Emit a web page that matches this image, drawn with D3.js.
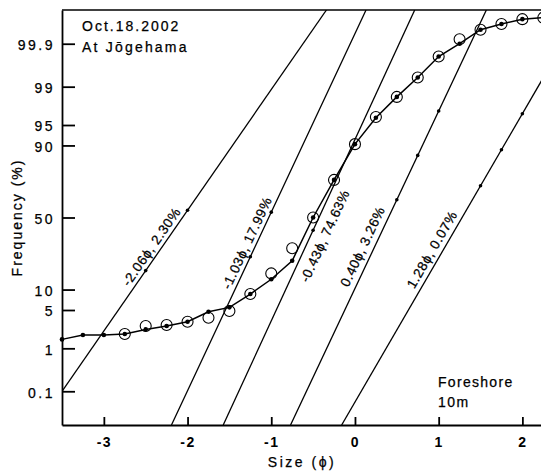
<!DOCTYPE html>
<html lang="en">
<head>
<meta charset="UTF-8">
<script src="https://cdn.jsdelivr.net/npm/d3@7"></script>
<style>
    * {
        margin: 0;
        padding: 0;
    }

    body {
        background-color: #fff;
        font-family: "Liberation Sans", Arial, sans-serif;
    }

    svg {
        display: block;
    }

    .axis path,
    .axis line {
        stroke: #000;
        stroke-width: 1.8;
    }

    .axis text {
        font-family: "Liberation Sans", Arial, sans-serif;
        fill: #000;
    }
</style>
<title>Oct.18.2002 At Jōgehama</title>
</head>
<body>
<div id="chart"></div>

<script>
    // sieve classes (phi) of the measured curve
    var phiClasses = [-3.5, -3.25, -3, -2.75, -2.5, -2.25, -2, -1.75, -1.5, -1.25, -1, -0.75,
                      -0.5, -0.25, 0, 0.25, 0.5, 0.75, 1, 1.25, 1.5, 1.75, 2, 2.25];
    // cumulative frequency (%) - filled dots joined by the curve
    var cumDots = [1.51, 1.83, 1.83, 1.91, 2.33, 2.68, 3.19, 4.69, 5.50, 8.68, 13.6, 22.1,
                   50.0, 74.8, 90.4, 96.2, 98.4, 99.36, 99.79, 99.90, 99.958, 99.971, 99.979, 99.981];

    // open circles
    var circlePhi = [-2.75, -2.5, -2.25, -2, -1.75, -1.5, -1.25, -1, -0.75, -0.5, -0.25, 0,
                     0.25, 0.5, 0.75, 1, 1.25, 1.5, 1.75, 2, 2.25];
    var cumCircles = [1.91, 2.68, 2.79, 3.19, 3.73, 4.81, 8.68, 16.0, 29.2, 50.0, 74.8, 90.4,
                      96.3, 98.4, 99.36, 99.79, 99.924, 99.958, 99.971, 99.979, 99.981];

    // normal populations
    var compMean = [-2.06, -1.03, -0.43, 0.40, 1.28];
    var compSigma = [0.466, 0.315, 0.31, 0.317, 0.39];
    var compShare = ["2.30", "17.99", "74.63", "3.26", "0.07"];
    var compDots = [[-2.5, -2], [-1.25, -1], [-0.5], [0.5, 0.75, 1], [1.5, 1.75, 2]];

    // axis ticks
    var yTicks = [0.1, 1, 5, 10, 50, 90, 95, 99, 99.9];
    var xTicks = [-3, -2, -1, 0, 1, 2];

    // where the population labels sit: z along the line, offset across it
    var labelPos = [{z: -0.61, off: -9}, {z: -0.52, off: -9}, {z: -0.23, off: 13},
                    {z: -0.60, off: -11}, {z: -0.66, off: -10}];

    var w = 541;
    var h = 472;
    var mLeft = 62, mTop = 10, mRight = 543.3, mBottom = 425;
    var zMax = 3.69;

    // inverse of the normal distribution (Acklam)
    function probit(p) {
        var a = [-3.969683028665376e+01, 2.209460984245205e+02, -2.759285104469687e+02,
                 1.383577518672690e+02, -3.066479806614716e+01, 2.506628277459239e+00];
        var b = [-5.447609879822406e+01, 1.615858368580409e+02, -1.556989798598866e+02,
                 6.680131188771972e+01, -1.328068155288572e+01];
        var c = [-7.784894002430293e-03, -3.223964580411365e-01, -2.400758277161838e+00,
                 -2.549732539343734e+00, 4.374664141464968e+00, 2.938163982698783e+00];
        var d = [7.784695709041462e-03, 3.224671290700398e-01, 2.445134137142996e+00,
                 3.754408661907416e+00];
        var pl = 0.02425, q, r;
        if (p < pl) {
            q = Math.sqrt(-2 * Math.log(p));
            return (((((c[0]*q+c[1])*q+c[2])*q+c[3])*q+c[4])*q+c[5]) / ((((d[0]*q+d[1])*q+d[2])*q+d[3])*q+1);
        }
        if (p > 1 - pl) {
            q = Math.sqrt(-2 * Math.log(1 - p));
            return -(((((c[0]*q+c[1])*q+c[2])*q+c[3])*q+c[4])*q+c[5]) / ((((d[0]*q+d[1])*q+d[2])*q+d[3])*q+1);
        }
        q = p - 0.5;
        r = q * q;
        return (((((a[0]*r+a[1])*r+a[2])*r+a[3])*r+a[4])*r+a[5])*q / (((((b[0]*r+b[1])*r+b[2])*r+b[3])*r+b[4])*r+1);
    }

    var xScale = d3.scaleLinear()
                   .domain([-3.5, 2.25])
                   .range([mLeft, mRight]);

    // linear in z, ticks placed at probit(percent)
    var yScale = d3.scaleLinear()
                   .domain([-zMax, zMax])
                   .range([mBottom, mTop]);

    function yPct(p) { return yScale(probit(p / 100)); }

    var svg = d3.select("#chart")
                .append("svg")
                .attr("width", w)
                .attr("height", h);

    svg.append("defs")
       .append("clipPath")
       .attr("id", "plotClip")
       .append("rect")
       .attr("x", mLeft)
       .attr("y", mTop)
       .attr("width", mRight - mLeft)
       .attr("height", mBottom - mTop);

    // population lines
    var comps = compMean.map(function(m, i) {
        return {mean: m, sigma: compSigma[i], share: compShare[i], dots: compDots[i], label: labelPos[i]};
    });

    var compG = svg.append("g")
                   .attr("clip-path", "url(#plotClip)");

    compG.selectAll("line")
         .data(comps)
         .enter()
         .append("line")
         .attr("x1", function(d) { return xScale(d.mean - zMax * d.sigma); })
         .attr("y1", yScale(-zMax))
         .attr("x2", function(d) { return xScale(d.mean + zMax * d.sigma); })
         .attr("y2", yScale(zMax))
         .attr("stroke", "#000")
         .attr("stroke-width", 1.3);

    comps.forEach(function(c) {
        compG.selectAll(null)
             .data(c.dots)
             .enter()
             .append("circle")
             .attr("cx", function(p) { return xScale(p); })
             .attr("cy", function(p) { return yScale((p - c.mean) / c.sigma); })
             .attr("r", 1.8)
             .attr("fill", "#000");
    });

    // labels along the lines
    svg.append("g")
       .selectAll("text")
       .data(comps)
       .enter()
       .append("text")
       .attr("transform", function(d) {
           var px = xScale(d.mean + d.label.z * d.sigma);
           var py = yScale(d.label.z);
           var ang = Math.atan2(yScale(1) - yScale(0), xScale(d.mean + d.sigma) - xScale(d.mean)) * 180 / Math.PI;
           return "translate(" + px + "," + py + ") rotate(" + ang + ")";
       })
       .attr("y", function(d) { return d.label.off; })
       .attr("dy", "0.35em")
       .attr("text-anchor", "middle")
       .attr("font-size", "13.5px")
       .attr("letter-spacing", "0.6px")
       .attr("stroke", "#000")
       .attr("stroke-width", 0.25)
       .text(function(d) {
           return (d.mean < 0 ? "-" : "") + Math.abs(d.mean).toFixed(2) + "\u03d5, " + d.share + "%";
       });

    // measured curve
    var curve = phiClasses.map(function(p, i) { return {phi: p, pct: cumDots[i]}; });
    var circles = circlePhi.map(function(p, i) { return {phi: p, pct: cumCircles[i]}; });

    var line = d3.line()
                 .x(function(d) { return xScale(d.phi); })
                 .y(function(d) { return yPct(d.pct); });

    svg.append("path")
       .datum(curve)
       .attr("d", line)
       .attr("fill", "none")
       .attr("stroke", "#000")
       .attr("stroke-width", 1.5);

    svg.append("g")
       .selectAll("circle")
       .data(circles)
       .enter()
       .append("circle")
       .attr("cx", function(d) { return xScale(d.phi); })
       .attr("cy", function(d) { return yPct(d.pct); })
       .attr("r", 5.5)
       .attr("fill", "none")
       .attr("stroke", "#000")
       .attr("stroke-width", 1.1);

    svg.append("g")
       .selectAll("circle")
       .data(curve)
       .enter()
       .append("circle")
       .attr("cx", function(d) { return xScale(d.phi); })
       .attr("cy", function(d) { return yPct(d.pct); })
       .attr("r", 2.3)
       .attr("fill", "#000");

    // axes
    var xAxis = d3.axisBottom(xScale)
                  .tickValues(xTicks)
                  .tickSizeInner(-8)
                  .tickSizeOuter(0)
                  .tickPadding(12)
                  .tickFormat(function(d) { return d < 0 ? "-" + Math.abs(d) : d; });

    var yAxis = d3.axisLeft(yScale)
                  .tickValues(yTicks.map(function(p) { return probit(p / 100); }))
                  .tickSizeInner(-13)
                  .tickSizeOuter(0)
                  .tickPadding(7)
                  .tickFormat(function(d, i) { return yTicks[i]; });

    svg.append("g")
       .attr("class", "axis x")
       .attr("transform", "translate(0," + mBottom + ")")
       .call(xAxis)
       .selectAll("text")
       .attr("font-size", "14px")
       .attr("font-weight", "bold")
       .attr("letter-spacing", "1.5px");

    var yG = svg.append("g")
                .attr("class", "axis y")
                .attr("transform", "translate(" + mLeft + ",0)")
                .call(yAxis);
    yG.selectAll("text")
      .attr("font-size", "14px")
      .attr("letter-spacing", "2.5px")
      .attr("stroke", "#000")
      .attr("stroke-width", 0.25)
      .attr("dy", "0.42em");

    // top frame
    svg.append("line")
       .attr("x1", mLeft)
       .attr("x2", mRight)
       .attr("y1", mTop)
       .attr("y2", mTop)
       .attr("stroke", "#000")
       .attr("stroke-width", 1.6);

    // titles
    var notes = svg.append("g")
                   .attr("font-size", "14px")
                   .attr("stroke", "#000")
                   .attr("stroke-width", 0.25);

    notes.append("text")
       .attr("transform", "translate(22," + ((mTop + mBottom) / 2) + ") rotate(-90)")
       .attr("text-anchor", "middle")
       .attr("letter-spacing", "2px")
       .text("Frequency (%)");

    notes.append("text")
       .attr("x", 302)
       .attr("y", 467)
       .attr("text-anchor", "middle")
       .attr("letter-spacing", "2.5px")
       .text("Size (\u03d5)");

    notes.append("text")
       .attr("x", 82)
       .attr("y", 31)
       .attr("letter-spacing", "2px")
       .text("Oct.18.2002");

    notes.append("text")
       .attr("x", 82)
       .attr("y", 52)
       .attr("letter-spacing", "2.2px")
       .text("At Jōgehama");

    notes.append("text")
       .attr("x", 438)
       .attr("y", 387)
       .attr("letter-spacing", "1.3px")
       .text("Foreshore");

    notes.append("text")
       .attr("x", 438)
       .attr("y", 407)
       .attr("letter-spacing", "1.5px")
       .text("10m");
</script>
</body>
</html>
